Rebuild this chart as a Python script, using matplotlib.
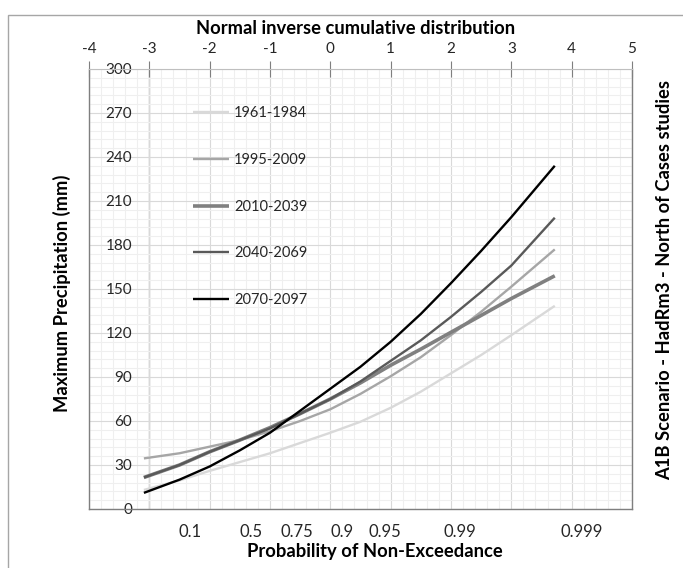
"""Precipitation quantile curves on a normal-probability axis (A1B / HadRm3)."""

import matplotlib
matplotlib.use("Agg")
import matplotlib.pyplot as plt
from matplotlib.patches import Rectangle
from matplotlib.ticker import MultipleLocator

plt.rcParams["font.family"] = ["Lato", "DejaVu Sans"]
plt.rcParams["axes.unicode_minus"] = False

# --- data ----------------------------------------------------------------------------
z = [-3.09, -2.5, -2.0, -1.5, -1.0, -0.5, 0.0, 0.5, 1.0, 1.5, 2.0, 2.5, 3.0, 3.72]
p_1961_1984 = [13, 19.5, 26, 32, 38, 45, 52, 59.5, 69, 80, 92.5, 105, 118.5, 138.5]
p_1995_2009 = [34.5, 38, 42.5, 47, 53, 60, 68, 78.5, 90.5, 103.5, 118.6, 134.5, 151.6, 177]
p_2010_2039 = [21.5, 30, 39, 47, 55.5, 65, 75, 86, 98, 109, 120.5, 132, 143.5, 159]
p_2040_2069 = [21.5, 30, 39, 47, 55, 65, 75, 87, 101, 115, 131, 148, 166, 198.6]
p_2070_2097 = [11, 20, 29, 40, 52, 67, 82, 97, 114, 133, 154, 176, 199, 234]

series = ["1961-1984", "1995-2009", "2010-2039", "2040-2069", "2070-2097"]
values = [p_1961_1984, p_1995_2009, p_2010_2039, p_2040_2069, p_2070_2097]
colors = ["#d9d9d9", "#a6a6a6", "#808080", "#595959", "#000000"]
widths = [1.7, 1.7, 2.6, 1.7, 1.7]

top_ticks = [-4, -3, -2, -1, 0, 1, 2, 3, 4, 5]
prob_labels = ["0.1", "0.5", "0.75", "0.9", "0.95", "0.99", "0.999"]
prob_pos = [-2.33, -1.31, -0.55, 0.2, 0.9, 2.14, 4.16]  # where the labels sit
y_ticks = list(range(0, 301, 30))

# --- figure --------------------------------------------------------------------------
W, H = 683, 568
fig = plt.figure(figsize=(W / 100, H / 100), dpi=100)
ax = fig.add_axes([89 / W, 1 - 509 / H, (632 - 89) / W, (509 - 69) / H])

for name, vals, c, lw in zip(series, values, colors, widths):
    ax.plot(z, vals, color=c, lw=lw, label=name, solid_capstyle="butt",
            solid_joinstyle="round", zorder=3)

ax.set_xlim(-4, 5)
ax.set_ylim(0, 300)

# grid
ax.xaxis.set_major_locator(MultipleLocator(1))
ax.xaxis.set_minor_locator(MultipleLocator(0.2))
ax.yaxis.set_minor_locator(MultipleLocator(6))
ax.set_yticks(y_ticks)
ax.grid(which="minor", color="#efefef", lw=0.8, zorder=0)
ax.grid(which="major", color="#d9d9d9", lw=0.8, zorder=0)
ax.axvline(-3, color="#b3b3b3", lw=1.0, zorder=1)

# top axis: normal inverse cumulative distribution
ax.xaxis.tick_top()
ax.set_xticks(top_ticks)
ax.tick_params(axis="x", which="major", direction="inout", length=11, width=0.8,
               color="#7f7f7f", pad=4, labelsize=11, labelcolor="#262626")
ax.tick_params(axis="both", which="minor", length=0)

# y labels sit between the plot border and the x=-3 line
ax.tick_params(axis="y", which="major", length=0, pad=-31, labelsize=11,
               labelcolor="#262626")
for lbl in ax.get_yticklabels():
    lbl.set_horizontalalignment("right")

# bottom axis: probability of non-exceedance
sec = ax.secondary_xaxis("bottom")
sec.set_xticks(prob_pos)
sec.set_xticklabels(prob_labels)
sec.tick_params(length=0, pad=11, labelsize=12, labelcolor="#262626")
sec.spines["bottom"].set_visible(False)

for side in ("left", "right", "bottom"):
    ax.spines[side].set_color("#7f7f7f")
    ax.spines[side].set_linewidth(1.0)
ax.spines["top"].set_color("#bfbfbf")

leg = ax.legend(loc="upper left", bbox_to_anchor=(193 / W, 1 - 106 / H),
                bbox_transform=fig.transFigure, frameon=False, fontsize=10.5,
                labelspacing=2.25, handlelength=2.5, handletextpad=0.3,
                borderpad=0, borderaxespad=0)
for t in leg.get_texts():
    t.set_color("#262626")

bold = dict(fontweight="bold", color="black", fontsize=13.2)
fig.text(356 / W, 1 - 28 / H, "Normal inverse cumulative distribution",
         ha="center", va="center", **bold)
fig.text(375 / W, 1 - 552 / H, "Probability of Non-Exceedance",
         ha="center", va="center", **bold)
fig.text(62 / W, 1 - 293 / H, "Maximum Precipitation (mm)", rotation=90,
         ha="center", va="center", **bold)
fig.text(665 / W, 1 - 280 / H, "A1B Scenario - HadRm3 - North of Cases studies",
         rotation=90, ha="center", va="center", **bold)

# outer chart border
fig.patches.append(Rectangle((8 / W, -0.01), 1.0, 1 - 15 / H + 0.01, fill=False,
                             edgecolor="#a6a6a6", lw=1.0, transform=fig.transFigure))

fig.savefig("out.png", dpi=100)
